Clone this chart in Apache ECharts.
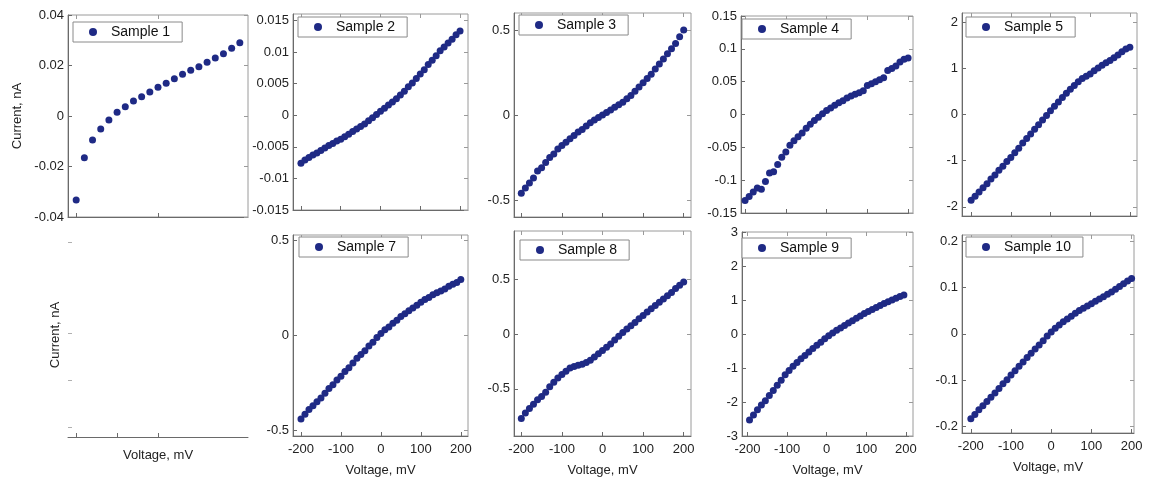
<!DOCTYPE html>
<html><head><meta charset="utf-8">
<script src="https://cdn.jsdelivr.net/npm/echarts@6/dist/echarts.min.js"></script>
<style>html,body{margin:0;padding:0;background:#fff}#c{width:1149px;height:481px}</style>
</head><body><div id="c"></div>
<script>
// ---------------- DATA ----------------
const voltage20 = [-200,-180,-160,-140,-120,-100,-80,-60,-40,-20,0,20,40,60,80,100,120,140,160,180,200];
const voltage10 = [-200,-190,-180,-170,-160,-150,-140,-130,-120,-110,-100,-90,-80,-70,-60,-50,-40,-30,-20,-10,0,10,20,30,40,50,60,70,80,90,100,110,120,130,140,150,160,170,180,190,200];
const voltage9 = [-195,-185,-175,-165,-155,-145,-135,-125,-115,-105,-95,-85,-75,-65,-55,-45,-35,-25,-15,-5,5,15,25,35,45,55,65,75,85,95,105,115,125,135,145,155,165,175,185,195];

const sample1 = [-0.0333,-0.0165,-0.0095,-0.0051,-0.0016,0.0015,0.0037,0.0059,0.0076,0.0095,0.0114,0.0130,0.0148,0.0165,0.0181,0.0195,0.0213,0.0230,0.0247,0.0268,0.0290];
const sample2 = [-0.0076,-0.0071,-0.0067,-0.0063,-0.0060,-0.0056,-0.0052,-0.0048,-0.0045,-0.0041,-0.0038,-0.0034,-0.0030,-0.0026,-0.0022,-0.0018,-0.0014,-0.0009,-0.0004,0.0001,0.0006,0.0011,0.0016,0.0021,0.0026,0.0032,0.0038,0.0045,0.0051,0.0058,0.0065,0.0072,0.0080,0.0087,0.0094,0.0102,0.0108,0.0114,0.0120,0.0127,0.0133];
const sample3 = [-0.46,-0.43,-0.40,-0.37,-0.33,-0.31,-0.28,-0.25,-0.23,-0.20,-0.18,-0.16,-0.14,-0.12,-0.10,-0.085,-0.065,-0.045,-0.03,-0.015,0.00,0.015,0.03,0.045,0.06,0.075,0.095,0.115,0.14,0.165,0.19,0.215,0.24,0.27,0.30,0.33,0.36,0.39,0.42,0.46,0.50];
const sample4 = [-0.131,-0.125,-0.118,-0.112,-0.114,-0.102,-0.089,-0.087,-0.076,-0.065,-0.057,-0.047,-0.040,-0.034,-0.028,-0.021,-0.015,-0.009,-0.004,0.001,0.006,0.010,0.014,0.018,0.021,0.025,0.028,0.031,0.033,0.036,0.044,0.047,0.050,0.053,0.056,0.067,0.070,0.074,0.080,0.084,0.086];
const sample5 = [-1.86,-1.77,-1.68,-1.59,-1.50,-1.40,-1.31,-1.21,-1.12,-1.02,-0.93,-0.83,-0.73,-0.62,-0.52,-0.42,-0.32,-0.22,-0.12,-0.02,0.08,0.18,0.27,0.37,0.46,0.55,0.63,0.71,0.78,0.83,0.88,0.95,1.01,1.07,1.12,1.17,1.23,1.29,1.36,1.42,1.46];
const sample7 = [-0.44,-0.415,-0.39,-0.37,-0.35,-0.33,-0.305,-0.28,-0.26,-0.235,-0.215,-0.19,-0.17,-0.145,-0.12,-0.10,-0.08,-0.055,-0.035,-0.01,0.01,0.03,0.045,0.065,0.08,0.10,0.115,0.13,0.145,0.16,0.175,0.19,0.20,0.215,0.225,0.235,0.245,0.26,0.27,0.28,0.295];
const sample8 = [-0.77,-0.72,-0.68,-0.64,-0.60,-0.57,-0.53,-0.48,-0.44,-0.40,-0.37,-0.34,-0.31,-0.295,-0.285,-0.275,-0.26,-0.24,-0.21,-0.18,-0.15,-0.12,-0.09,-0.055,-0.02,0.015,0.045,0.075,0.105,0.14,0.17,0.20,0.23,0.26,0.29,0.32,0.35,0.38,0.415,0.445,0.475];
const sample9 = [-2.53,-2.38,-2.23,-2.09,-1.96,-1.81,-1.66,-1.51,-1.36,-1.20,-1.07,-0.95,-0.84,-0.73,-0.63,-0.53,-0.43,-0.33,-0.24,-0.14,-0.05,0.03,0.11,0.18,0.25,0.32,0.39,0.46,0.53,0.60,0.66,0.72,0.78,0.84,0.90,0.95,1.00,1.05,1.10,1.145];
const sample10 = [-0.183,-0.174,-0.164,-0.155,-0.146,-0.137,-0.128,-0.118,-0.108,-0.099,-0.089,-0.080,-0.070,-0.061,-0.051,-0.042,-0.033,-0.024,-0.015,-0.005,0.004,0.012,0.019,0.026,0.032,0.038,0.044,0.050,0.055,0.060,0.065,0.070,0.075,0.080,0.085,0.090,0.096,0.102,0.108,0.114,0.119];

const xTicks = [-200,-100,0,100,200];
const xTicks1 = [-200,0];
const xTicks6 = [-200,-100,0];
const yTicks1 = [-0.04,-0.02,0,0.02,0.04];
const yTicks2 = [-0.015,-0.01,-0.005,0,0.005,0.01,0.015];
const yTicks3 = [-0.5,0,0.5];
const yTicks4 = [-0.15,-0.1,-0.05,0,0.05,0.1,0.15];
const yTicks5 = [-2,-1,0,1,2];
const yTicks6 = [0.05,0.28,0.51,0.955];
const yTicks7 = [-0.5,0,0.5];
const yTicks8 = [-0.5,0,0.5];
const yTicks9 = [-3,-2,-1,0,1,2,3];
const yTicks10 = [-0.2,-0.1,0,0.1,0.2];

const xTitle = 'Voltage, mV';
const yTitle = 'Current, nA';

// ---------------- LAYOUT ----------------
const FONT = 'Liberation Sans, Arial, sans-serif';
const DOT = '#1f2a85';
const panels = [
  {name:'Sample 1', x:voltage20, y:sample1, g:[68,15,180,202], xr:[-220,220], yr:[-0.04,0.04], xt:xTicks1, yt:yTicks1, xl:false, yName:yTitle, yNameGap:44, lg:[73,22]},
  {name:'Sample 2', x:voltage10, y:sample2, g:[293,14,175,196], xr:[-220,220], yr:[-0.015,0.016], xt:xTicks, yt:yTicks2, xl:false, lg:[298,17]},
  {name:'Sample 3', x:voltage10, y:sample3, g:[514,13,177,204], xr:[-218,218], yr:[-0.6,0.6], xt:xTicks, yt:yTicks3, xl:false, lg:[519,15]},
  {name:'Sample 4', x:voltage10, y:sample4, g:[741,16,172,197], xr:[-210,212], yr:[-0.15,0.15], xt:xTicks, yt:yTicks4, xl:false, lg:[742,19]},
  {name:'Sample 5', x:voltage10, y:sample5, g:[962,13,175,203], xr:[-223,218], yr:[-2.2,2.2], xt:xTicks, yt:yTicks5, xl:false, lg:[966,17]},
  {name:null, g:[68,233,180,204], xr:[-220,220], yr:[0,1], xt:xTicks6, yt:yTicks6, xl:false, empty:true, xName:xTitle, xNameGap:12, yName:yTitle, yNameGap:6},
  {name:'Sample 7', x:voltage10, y:sample7, g:[293,235,175,201], xr:[-220,218], yr:[-0.53,0.53], xt:xTicks, yt:yTicks7, xl:true, xName:xTitle, lg:[299,237]},
  {name:'Sample 8', x:voltage10, y:sample8, g:[514,231,177,205], xr:[-218,218], yr:[-0.93,0.94], xt:xTicks, yt:yTicks8, xl:true, xName:xTitle, lg:[520,240]},
  {name:'Sample 9', x:voltage9, y:sample9, g:[742,232,171,204], xr:[-214,218], yr:[-3,3], xt:xTicks, yt:yTicks9, xl:true, xName:xTitle, lg:[742,238]},
  {name:'Sample 10', x:voltage10, y:sample10, g:[962,235,172,198], xr:[-222,206], yr:[-0.214,0.213], xt:xTicks, yt:yTicks10, xl:true, xName:xTitle, lg:[966,237]}
];

const grid = [], xAxis = [], yAxis = [], series = [], legend = [];
const axisColor = '#6a6a6a';
const nameStyle = {color:'#222', fontSize:13, fontFamily:FONT};

panels.forEach((p, i) => {
  grid.push({left:p.g[0], top:p.g[1], width:p.g[2], height:p.g[3], show:!p.empty,
    borderColor:'#9a9a9a', borderWidth:1, backgroundColor:'transparent', containLabel:false});
  xAxis.push({type:'value', gridIndex:i, min:p.xr[0], max:p.xr[1], position:'bottom',
    axisLine:{show:true, onZero:false, lineStyle:{color:axisColor, width:1}},
    axisTick:{show:true, inside:true, length:4, customValues:p.xt, lineStyle:{color:axisColor}},
    axisLabel:{show:p.xl, customValues:p.xt, color:'#222', fontSize:13, margin:7, fontFamily:FONT},
    splitLine:{show:false},
    name:p.xName || '', nameLocation:'middle', nameGap:p.xNameGap || 28, nameTextStyle:nameStyle});
  xAxis.push({type:'value', gridIndex:i, min:p.xr[0], max:p.xr[1], position:'top', show:!p.empty,
    axisLine:{show:false, onZero:false},
    axisTick:{show:true, inside:true, length:4, customValues:p.xt, lineStyle:{color:'#9a9a9a'}},
    axisLabel:{show:false}, splitLine:{show:false}});
  yAxis.push({type:'value', gridIndex:i, min:p.yr[0], max:p.yr[1], position:'left',
    axisLine:{show:!p.empty, onZero:false, lineStyle:{color:axisColor, width:1}},
    axisTick:{show:true, inside:true, length:4, customValues:p.yt, lineStyle:{color:p.empty ? '#b0b0b0' : axisColor}},
    axisLabel:{show:!p.empty, customValues:p.yt, color:'#222', fontSize:13, margin:4, fontFamily:FONT},
    splitLine:{show:false},
    name:p.yName || '', nameLocation:'middle', nameGap:p.yNameGap || 40, nameTextStyle:nameStyle});
  yAxis.push({type:'value', gridIndex:i, min:p.yr[0], max:p.yr[1], position:'right', show:!p.empty,
    axisLine:{show:false, onZero:false},
    axisTick:{show:true, inside:true, length:4, customValues:p.yt, lineStyle:{color:'#9a9a9a'}},
    axisLabel:{show:false}, splitLine:{show:false}});
  if (!p.empty) {
    series.push({type:'scatter', name:p.name, xAxisIndex:2*i, yAxisIndex:2*i,
      data:p.x.map((v, k) => [v, p.y[k]]), symbol:'circle', symbolSize:7,
      itemStyle:{color:DOT, opacity:1}, emphasis:{disabled:true}, silent:true, animation:false});
    legend.push({data:[p.name], left:p.lg[0], top:p.lg[1], orient:'horizontal', selectedMode:false,
      backgroundColor:'#fff', borderColor:'#8a8a8a', borderWidth:1, borderRadius:0,
      padding:[3,12,3,16], itemWidth:8, itemHeight:8, icon:'circle', itemStyle:{color:DOT, opacity:1},
      textStyle:{fontSize:14, color:'#111', fontFamily:FONT, padding:[0,0,0,9]}});
  }
});

const chart = echarts.init(document.getElementById('c'), null, {renderer:'canvas'});
chart.setOption({backgroundColor:'#fff', animation:false, grid, xAxis, yAxis, series, legend});
</script>
</body></html>
